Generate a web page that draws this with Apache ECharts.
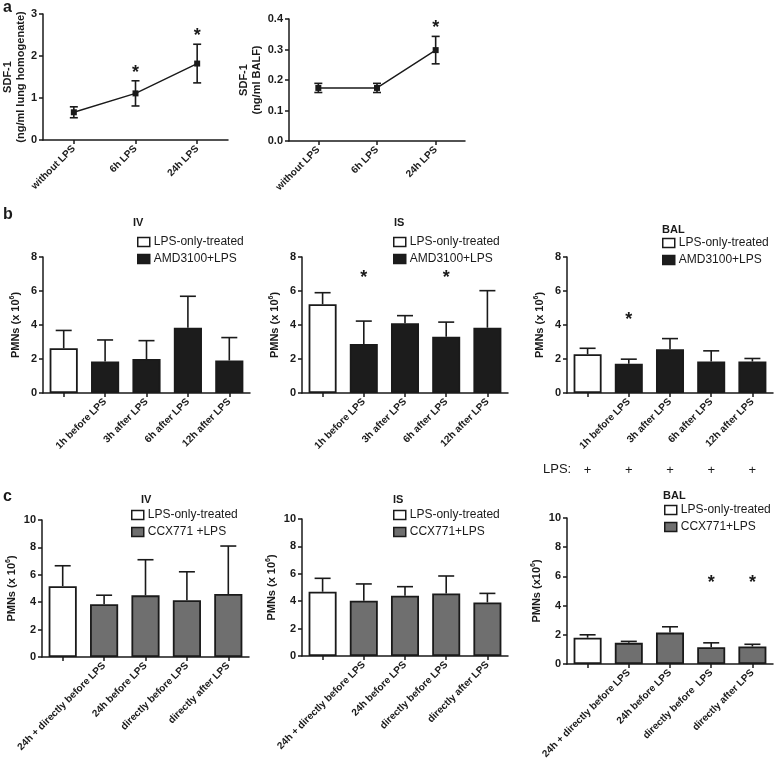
<!DOCTYPE html>
<html><head><meta charset="utf-8">
<script src="https://cdn.jsdelivr.net/npm/echarts@6/dist/echarts.min.js"></script>
<style>html,body{margin:0;padding:0;background:#fff}#c{width:774px;height:768px}</style>
</head><body><div id="c"></div>
<script>
// ---- data ----
const aCats = ['without LPS', '6h LPS', '24h LPS'];
const aLungMean = [0.66, 1.11, 1.82];
const aLungSem = [0.13, 0.30, 0.46];
const aLungStars = [null, 1.68, 2.56];
const aBalfMean = [0.174, 0.174, 0.298];
const aBalfSem = [0.015, 0.015, 0.045];
const aBalfStars = [null, null, 0.384];

const bCats = ['', '1h before LPS', '3h after LPS', '6h after LPS', '12h after LPS'];
const bIVMean = [2.63, 1.85, 2.0, 3.84, 1.91];
const bIVTop = [3.68, 3.12, 3.08, 5.69, 3.26];
const bIVStars = [null, null, null, null, null];
const bISMean = [5.22, 2.88, 4.1, 3.31, 3.84];
const bISTop = [5.9, 4.23, 4.55, 4.17, 6.02];
const bISStars = [null, 7.0, null, 7.0, null];
const bBALMean = [2.28, 1.72, 2.57, 1.85, 1.85];
const bBALTop = [2.63, 1.99, 3.2, 2.48, 2.03];
const bBALStars = [null, 4.5, null, null, null];
const lpsRow = ['+', '+', '+', '+', '+'];

const cCats = ['', '24h + directly before LPS', '24h before LPS', 'directly before LPS', 'directly after LPS'];
const cBALCats = ['', '24h + directly before LPS', '24h before LPS', 'directly before  LPS', 'directly after LPS'];
const cIVMean = [5.17, 3.85, 4.5, 4.15, 4.6];
const cIVTop = [6.66, 4.51, 7.1, 6.22, 8.1];
const cIVStars = [null, null, null, null, null];
const cISMean = [4.69, 4.03, 4.4, 4.57, 3.91];
const cISTop = [5.67, 5.26, 5.06, 5.84, 4.57];
const cISStars = [null, null, null, null, null];
const cBALMean = [1.8, 1.45, 2.15, 1.15, 1.2];
const cBALTop = [2.0, 1.55, 2.55, 1.45, 1.35];
const cBALStars = [null, null, null, 5.8, 5.8];

// ---- styling / layout ----
const INK = '#1a1a1a';
const FONT = 'Liberation Sans, Arial, sans-serif';
const DARK = '#1c1c1c';
const GRAY = '#6f6f6f';

const grids = [
  {left: 43, top: 14, width: 185, height: 126},   // a lung
  {left: 289, top: 19, width: 176, height: 122},  // a BALF
  {left: 43, top: 257, width: 207, height: 136},  // b IV
  {left: 302, top: 257, width: 206, height: 136}, // b IS
  {left: 567, top: 257, width: 206, height: 136}, // b BAL
  {left: 42, top: 520, width: 207, height: 137},  // c IV
  {left: 302, top: 519, width: 206, height: 137}, // c IS
  {left: 567, top: 518, width: 206, height: 146}  // c BAL
].map(g => Object.assign({outerBoundsMode: 'none', containLabel: false}, g));

const axLine = {show: true, onZero: false, lineStyle: {color: INK, width: 1.5}};
const axTick = {show: true, length: 4, lineStyle: {color: INK, width: 1.5}};

function xAx(gi, cats) {
  return {type: 'category', gridIndex: gi, data: cats, boundaryGap: true,
    axisLine: axLine, axisTick: Object.assign({alignWithLabel: true}, axTick),
    axisLabel: {rotate: 45, interval: 0, margin: 7, fontSize: 10, fontWeight: 'bold', color: INK, fontFamily: FONT},
    splitLine: {show: false}};
}
function yAx(gi, max, interval, name, gap, fmt) {
  return {type: 'value', gridIndex: gi, min: 0, max: max, interval: interval,
    axisLine: axLine, axisTick: axTick, splitLine: {show: false},
    axisLabel: {fontSize: 11, fontWeight: 'bold', color: INK, margin: 6, fontFamily: FONT, formatter: fmt},
    name: name, nameLocation: 'middle', nameRotate: 90, nameGap: gap,
    nameTextStyle: {fontSize: 11, fontWeight: 'bold', color: INK, fontFamily: FONT, lineHeight: 13,
      rich: {s: {fontSize: 7, fontWeight: 'bold', color: INK, verticalAlign: 'top', fontFamily: FONT, padding: [0, 0, 6, 0]}}}};
}

const series = [];
function errSeries(gi, data, capW, both) {
  series.push({type: 'custom', xAxisIndex: gi, yAxisIndex: gi, z: 5, silent: true,
    data: data,
    renderItem: function (params, api) {
      const x = api.value(0), lo = api.value(1), hi = api.value(2);
      const p1 = api.coord([x, lo]), p2 = api.coord([x, hi]);
      const st = {stroke: INK, lineWidth: 1.6};
      const ch = [
        {type: 'line', shape: {x1: p1[0], y1: p1[1], x2: p2[0], y2: p2[1]}, style: st},
        {type: 'line', shape: {x1: p2[0] - capW / 2, y1: p2[1], x2: p2[0] + capW / 2, y2: p2[1]}, style: st}
      ];
      if (both) ch.push({type: 'line', shape: {x1: p1[0] - capW / 2, y1: p1[1], x2: p1[0] + capW / 2, y2: p1[1]}, style: st});
      return {type: 'group', children: ch};
    }});
}
function starSeries(gi, stars) {
  const d = [];
  stars.forEach((v, i) => { if (v != null) d.push([i, v]); });
  if (!d.length) return;
  series.push({type: 'custom', xAxisIndex: gi, yAxisIndex: gi, z: 6, silent: true, data: d,
    renderItem: function (params, api) {
      const p = api.coord([api.value(0), api.value(1)]);
      return {type: 'text', style: {text: '*', x: p[0], y: p[1] + 4, align: 'center', verticalAlign: 'middle',
        fontSize: 18, fontWeight: 'bold', fontFamily: FONT, fill: INK}};
    }});
}
function barPanel(gi, mean, top, stars, n0, n1, fill1) {
  series.push({type: 'bar', name: n0, xAxisIndex: gi, yAxisIndex: gi, barWidth: '68%', barGap: '-100%',
    data: mean.map((v, i) => i === 0 ? v : '-'),
    itemStyle: {color: '#ffffff', borderColor: INK, borderWidth: 1.8}});
  series.push({type: 'bar', name: n1, xAxisIndex: gi, yAxisIndex: gi, barWidth: '68%', barGap: '-100%',
    data: mean.map((v, i) => i === 0 ? '-' : v),
    itemStyle: {color: fill1, borderColor: INK, borderWidth: 1.8}});
  errSeries(gi, mean.map((v, i) => [i, v, top[i]]), 16, false);
  starSeries(gi, stars);
}
function linePanel(gi, mean, sem, stars) {
  series.push({type: 'line', xAxisIndex: gi, yAxisIndex: gi, data: mean, symbol: 'rect', symbolSize: 6,
    lineStyle: {color: INK, width: 1.4}, itemStyle: {color: INK}, z: 4});
  errSeries(gi, mean.map((v, i) => [i, v - sem[i], v + sem[i]]), 8, true);
  starSeries(gi, stars);
}

linePanel(0, aLungMean, aLungSem, aLungStars);
linePanel(1, aBalfMean, aBalfSem, aBalfStars);
barPanel(2, bIVMean, bIVTop, bIVStars, 'LPS-only-treated', 'AMD3100+LPS', DARK);
barPanel(3, bISMean, bISTop, bISStars, 'LPS-only-treated', 'AMD3100+LPS', DARK);
barPanel(4, bBALMean, bBALTop, bBALStars, 'LPS-only-treated', 'AMD3100+LPS', DARK);
barPanel(5, cIVMean, cIVTop, cIVStars, 'LPS-only-treated', 'CCX771 +LPS', GRAY);
barPanel(6, cISMean, cISTop, cISStars, 'LPS-only-treated', 'CCX771+LPS', GRAY);
barPanel(7, cBALMean, cBALTop, cBALStars, 'LPS-only-treated', 'CCX771+LPS', GRAY);

// LPS "+" row under panel b BAL
series.push({type: 'custom', xAxisIndex: 4, yAxisIndex: 4, silent: true, clip: false,
  data: lpsRow.map((t, i) => [i, 0]),
  renderItem: function (params, api) {
    const p = api.coord([api.value(0), 0]);
    return {type: 'text', style: {text: lpsRow[params.dataIndex], x: p[0], y: p[1] + 77, align: 'center', verticalAlign: 'middle',
      fontSize: 13, fontFamily: FONT, fill: INK}};
  }});

function legendAt(left, top, n1, fill1) {
  return {left: left, top: top, orient: 'vertical', itemWidth: 12, itemHeight: 9, itemGap: 5, selectedMode: false,
    icon: 'rect', padding: 0,
    textStyle: {fontSize: 12, color: INK, fontFamily: FONT, padding: [0, 0, 0, -1]},
    data: [
      {name: 'LPS-only-treated', itemStyle: {color: '#fff', borderColor: INK, borderWidth: 1.5}},
      {name: n1, itemStyle: {color: fill1, borderColor: INK, borderWidth: 1.5}}
    ]};
}
function ttl(text, left, top) {
  return {text: text, left: left, top: top, padding: 0,
    textStyle: {fontSize: 11, fontWeight: 'bold', color: INK, fontFamily: FONT}};
}
function letter(t, x, y) {
  return {type: 'text', left: x, top: y, style: {text: t, fontSize: 16, fontWeight: 'bold', fill: INK, fontFamily: FONT}};
}

const pmn = 'PMNs (x 10{s|6})';
const option = {
  animation: false,
  backgroundColor: '#ffffff',
  textStyle: {fontFamily: FONT},
  grid: grids,
  xAxis: [xAx(0, aCats), xAx(1, aCats), xAx(2, bCats), xAx(3, bCats), xAx(4, bCats), xAx(5, cCats), xAx(6, cCats), xAx(7, cBALCats)],
  yAxis: [
    yAx(0, 3, 1, 'SDF-1\n(ng/ml lung homogenate)', 14),
    yAx(1, 0.4, 0.1, 'SDF-1\n(ng/ml BALF)', 20, v => v.toFixed(1)),
    yAx(2, 8, 2, pmn, 21), yAx(3, 8, 2, pmn, 21), yAx(4, 8, 2, pmn, 21),
    yAx(5, 10, 2, pmn, 24), yAx(6, 10, 2, pmn, 24), yAx(7, 10, 2, 'PMNs (x10{s|6})', 24)
  ],
  legend: [
    legendAt(137, 236, 'AMD3100+LPS', DARK),
    legendAt(393, 236, 'AMD3100+LPS', DARK),
    legendAt(662, 237, 'AMD3100+LPS', DARK),
    legendAt(131, 509, 'CCX771 +LPS', GRAY),
    legendAt(393, 509, 'CCX771+LPS', GRAY),
    legendAt(664, 504, 'CCX771+LPS', GRAY)
  ],
  title: [ttl('IV', 133, 217), ttl('IS', 394, 217), ttl('BAL', 662, 224),
          ttl('IV', 141, 494), ttl('IS', 393, 494), ttl('BAL', 663, 490)],
  graphic: [letter('a', 3, 0), letter('b', 3, 207), letter('c', 3, 489),
    {type: 'text', left: 543, top: 463, style: {text: 'LPS:', fontSize: 13, fill: INK, fontFamily: FONT}}],
  series: series
};
const chart = echarts.init(document.getElementById('c'), null, {renderer: 'canvas'});
chart.setOption(option);
</script></body></html>
